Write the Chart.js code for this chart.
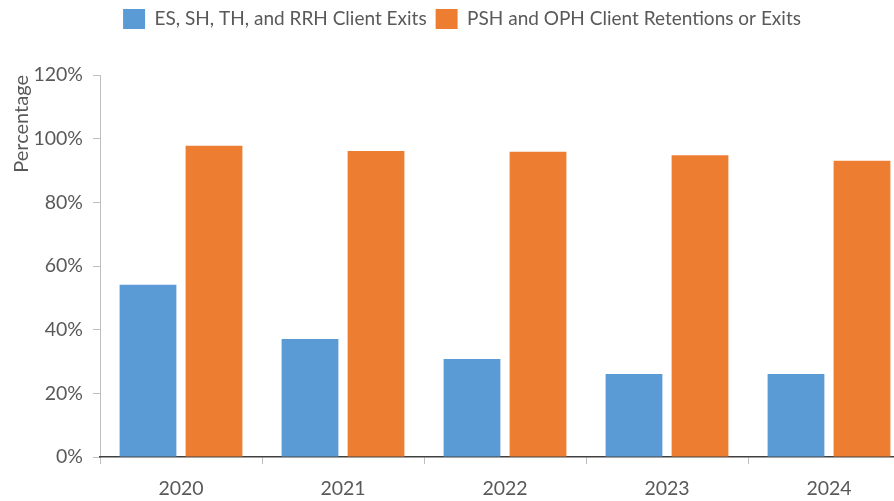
<!DOCTYPE html>
<html>
<head>
<meta charset="utf-8">
<script src="https://cdn.jsdelivr.net/npm/chart.js@4"></script>
<style>
  html, body { margin: 0; padding: 0; overflow: hidden; background: #fff; }
  #wrap { width: 920px; height: 501px; }
</style>
</head>
<body>
<div id="wrap"><canvas id="grafico"></canvas></div>
<script>
const years = ['2020', '2021', '2022', '2023', '2024'];
const exitsEsShThRrh = [54.1, 37.1, 30.8, 26.1, 26.1];
const retentionsPshOph = [97.8, 96.1, 95.9, 94.8, 93.1];
const seriesNames = ['ES, SH, TH, and RRH Client Exits', 'PSH and OPH Client Retentions or Exits'];

Chart.defaults.font.family = "Lato, 'Open Sans', sans-serif";
Chart.defaults.color = '#595959';

// legend takes a fixed band at the top, nudged a bit right
const legendBand = {
    id: 'legendBand',
    beforeInit(chart) {
        const fit = chart.legend.fit;
        chart.legend.fit = function () {
            fit.bind(chart.legend)();
            this.height = 75;
        };
    },
    afterLayout(chart) {
        chart.legend.left += 7;
        chart.legend.right += 7;
    }
};

new Chart(document.getElementById('grafico'), {
    type: 'bar',
    data: {
        labels: years,
        datasets: [{
            label: seriesNames[0],
            data: exitsEsShThRrh,
            backgroundColor: '#5B9BD5',
            categoryPercentage: 0.815,
            barPercentage: 0.86
        }, {
            label: seriesNames[1],
            data: retentionsPshOph,
            backgroundColor: '#ED7D31',
            categoryPercentage: 0.815,
            barPercentage: 0.86
        }]
    },
    options: {
        responsive: true,
        maintainAspectRatio: false,
        animation: false,
        layout: { padding: { left: 0, right: 10, top: 0, bottom: 0 } },
        scales: {
            y: {
                min: 0,
                max: 120,
                ticks: {
                    stepSize: 20,
                    padding: 10,
                    font: { size: 19.5 },
                    callback: v => v + '%'
                },
                grid: { drawOnChartArea: false, tickLength: 7, color: '#bfbfbf' },
                border: { color: '#bfbfbf' },
                title: {
                    display: true,
                    text: 'Percentage',
                    align: 'end',
                    font: { size: 20 },
                    padding: { top: 10, bottom: 0 }
                },
                afterFit(scale) { scale.width = 100; }
            },
            x: {
                ticks: { padding: 13, font: { size: 19.5 } },
                grid: { offset: true, drawOnChartArea: false, tickLength: 7, color: '#bfbfbf' },
                border: { color: '#404040', width: 1.5 },
                afterFit(scale) { scale.height = 44; }
            }
        },
        plugins: {
            legend: {
                labels: {
                    boxWidth: 22,
                    boxHeight: 20,
                    padding: 9,
                    font: { size: 19 }
                }
            },
            tooltip: { enabled: false }
        }
    },
    plugins: [legendBand]
});
</script>
</body>
</html>
